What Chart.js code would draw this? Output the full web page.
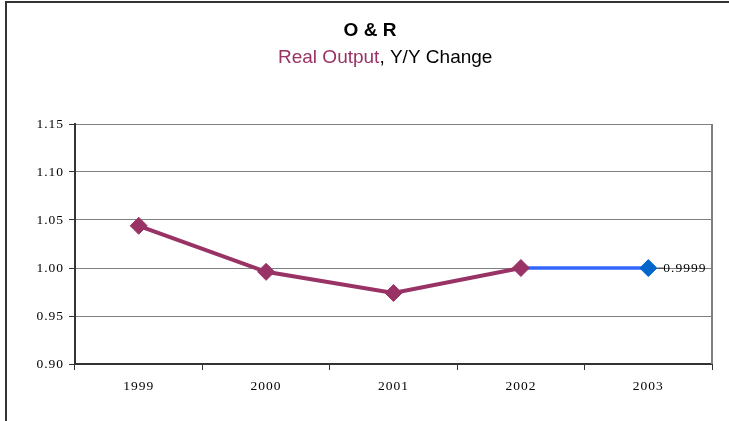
<!DOCTYPE html>
<html>
<head>
<meta charset="utf-8">
<script src="https://cdn.jsdelivr.net/npm/chart.js@4/dist/chart.umd.min.js"></script>
<style>
html, body { margin: 0; padding: 0; background: #fff; }
#wrap { width: 729px; height: 421px; position: relative; }
</style>
</head>
<body>
<div id="wrap"><canvas id="chart"></canvas></div>
<script>
const years = ['1999', '2000', '2001', '2002', '2003']
const realOutput = [1.044, 0.996, 0.974, 1.0, null]   // purple, actuals
const projection = [null, null, null, 1.0, 0.9999]    // blue, last segment
const yTicks = [0.90, 0.95, 1.00, 1.05, 1.10, 1.15]
const titleText = 'O & R'
const subtitleParts = [['Real Output', '#993366'], [', Y/Y Change', '#000000']]

const serif = 'Liberation Serif, Times New Roman, serif'
const sans = 'Liberation Sans, Arial, sans-serif'

// frame, titles, right border and the value label on the last point
const extras = {
    id: 'extras',
    beforeDraw(chart) {
        chart.ctx.letterSpacing = '1px' //tick labels in the original are spaced out
    },
    afterDraw(chart) {
        const ctx = chart.ctx
        const a = chart.chartArea
        ctx.save()
        ctx.letterSpacing = '0px'
        //outer frame, only top + left visible
        ctx.strokeStyle = '#333'
        ctx.lineWidth = 2
        ctx.beginPath()
        ctx.moveTo(6, 421)
        ctx.lineTo(6, 2)
        ctx.lineTo(729, 2)
        ctx.stroke()
        //right edge of plot area
        ctx.strokeStyle = '#808080'
        ctx.lineWidth = 2
        ctx.beginPath()
        ctx.moveTo(a.right, a.top)
        ctx.lineTo(a.right, a.bottom)
        ctx.stroke()
        //title
        ctx.textBaseline = 'middle'
        ctx.fillStyle = '#000'
        ctx.font = 'bold 19px ' + sans
        ctx.textAlign = 'center'
        ctx.fillText(titleText, 370, 31)
        ctx.font = '19px ' + sans
        ctx.textAlign = 'left'
        let x = 278
        subtitleParts.forEach(([txt, col]) => {
            ctx.fillStyle = col
            ctx.fillText(txt, x, 58)
            x += ctx.measureText(txt).width
        })
        ctx.restore()
    },
    afterDatasetsDraw(chart) {
        const ctx = chart.ctx
        const meta = chart.getDatasetMeta(1)
        const i = projection.length - 1
        const pt = meta.data[i]
        ctx.save()
        ctx.strokeStyle = '#333'
        ctx.lineWidth = 1
        ctx.beginPath()
        ctx.moveTo(pt.x + 9, pt.y)
        ctx.lineTo(pt.x + 15, pt.y)
        ctx.stroke()
        ctx.fillStyle = '#000'
        ctx.font = '13.5px ' + serif
        ctx.letterSpacing = '1px'
        ctx.textBaseline = 'middle'
        ctx.textAlign = 'left'
        ctx.fillText(projection[i].toFixed(4), pt.x + 15, pt.y)
        ctx.restore()
    }
}

const ctx = document.getElementById('chart').getContext('2d')
new Chart(ctx, {
    type: 'line',
    data: {
        labels: years,
        datasets: [
            {
                label: 'Real Output',
                data: realOutput,
                borderColor: '#993366',
                backgroundColor: '#993366',
                borderWidth: 4,
                pointStyle: 'rectRot',
                pointRadius: 8.5,
                pointBorderWidth: 1,
                pointBackgroundColor: '#993366',
                pointBorderColor: '#993366',
                tension: 0
            },
            {
                label: 'Projection',
                data: projection,
                borderColor: '#3366FF',
                backgroundColor: '#0066CC',
                borderWidth: 3.5,
                pointStyle: 'rectRot',
                pointRadius: [0, 0, 0, 0, 8.5],
                pointBorderWidth: 1,
                pointBackgroundColor: '#0066CC',
                pointBorderColor: '#0066CC',
                tension: 0
            }
        ]
    },
    options: {
        responsive: true,
        maintainAspectRatio: false,
        animation: false,
        layout: { padding: { top: 124, right: 17, left: 0, bottom: 0 } },
        plugins: {
            legend: { display: false },
            tooltip: { enabled: false },
            title: { display: false }
        },
        scales: {
            x: {
                offset: true,
                grid: { offset: true, drawOnChartArea: false, drawTicks: true, tickLength: 6, color: '#333' },
                border: { color: '#333', width: 2 },
                ticks: { color: '#000', font: { family: serif, size: 13.5 }, padding: 8, maxRotation: 0 },
                afterFit(s) { s.height = 57 }
            },
            y: {
                min: 0.9,
                max: 1.15,
                afterBuildTicks(s) { s.ticks = yTicks.map(v => ({ value: v })) },
                grid: { color: '#808080', lineWidth: 1, tickColor: '#333', tickLength: 6 },
                border: { color: '#333', width: 2 },
                ticks: {
                    color: '#000',
                    font: { family: serif, size: 13.5 },
                    padding: 5,
                    callback: v => Number(v).toFixed(2)
                },
                afterFit(s) { s.width = 75 }
            }
        }
    },
    plugins: [extras]
})
</script>
</body>
</html>
